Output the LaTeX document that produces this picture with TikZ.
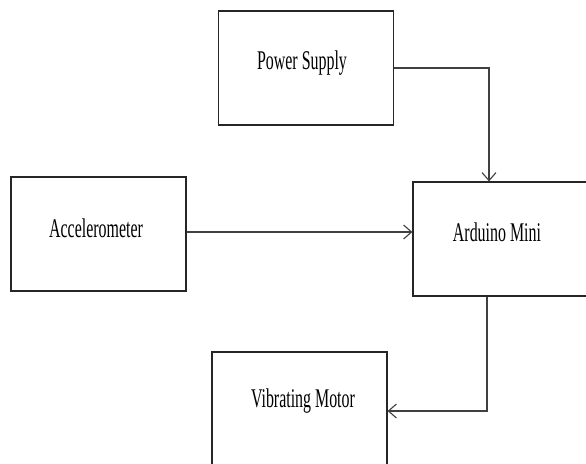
\documentclass[tikz,border=0pt]{standalone}
\usepackage{fontspec}
\usepackage{graphicx}
\setmainfont{Liberation Serif}
\usetikzlibrary{arrows.meta}
\tikzset{
  blockbox/.style={draw=black!85, line width=1.2pt, minimum width=175pt, minimum height=114pt, inner sep=0pt},
  blocktext/.style={anchor=base, inner sep=0pt, font=\fontsize{27}{30}\selectfont},
  link/.style={draw=black!75, line width=1.2pt, -{Straight Barb[length=8pt,width=14pt,line width=1.1pt]}}
}
\newcommand{\narrow}[1]{\scalebox{0.59}[1]{#1}}
\begin{document}
\begin{tikzpicture}[x=1pt,y=1pt]
  \useasboundingbox (0,0) rectangle (586,463);
  \clip (0,0) rectangle (586,463);
  \fill[white] (0,0) rectangle (586,463);

  % blocks
  \node[blockbox] (ps)  at (306,395)   {};
  \node[blockbox] (acc) at (98.5,229)  {};
  \node[blockbox, minimum width=178pt] (ard) at (502,224) {};
  \node[blockbox] (vm)  at (299.5,54)  {};

  % labels
  \node[blocktext] (pst)  at (302,393) {\narrow{Power Supply}};
  \node[blocktext] (acct) at (96,225)  {\narrow{Accelerometer}};
  \node[blocktext] (ardt) at (497,221) {\narrow{Arduino Mini}};
  \node[blocktext] (vmt)  at (303,55)  {\narrow{Vibrating Motor}};

  % connectors
  \coordinate (k1) at (489,395);
  \coordinate (k2) at (487,52);
  \draw[link] (ps.east) -- (k1) -- (k1 |- ard.north);
  \draw[link] (acc.east |- 0,231) -- (ard.west |- 0,231);
  \draw[link] (ard.south -| k2) -- (k2) -- (vm.east |- k2);
\end{tikzpicture}
\end{document}
